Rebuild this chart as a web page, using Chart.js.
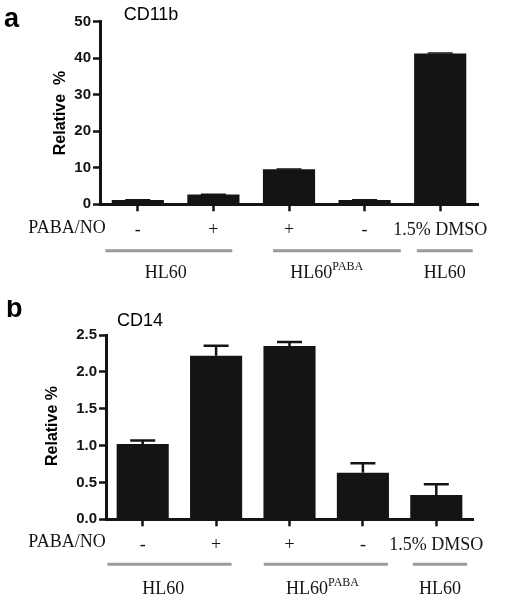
<!DOCTYPE html>
<html>
<head>
<meta charset="utf-8">
<script src="https://cdn.jsdelivr.net/npm/chart.js@4.4.1/dist/chart.umd.min.js"></script>
<style>
  body { margin: 0; background: #fff; }
  .panel { position: absolute; left: 0; width: 515px; }
</style>
</head>
<body>
<div class="panel" style="top:0;height:300px"><canvas id="cd11b" width="515" height="300"></canvas></div>
<div class="panel" style="top:300px;height:301px"><canvas id="cd14" width="515" height="301"></canvas></div>
<script>
// categories (treatment with PABA/NO)
const treatments = ['-', '+', '+', '-', '1.5% DMSO'];
// cell line groups under the axis
const groups = ['HL60', 'HL60|PABA', 'HL60'];

// panel a - CD11b
const cd11bValues = [1.2, 2.7, 9.6, 1.2, 41.3];
const cd11bErrors = [0.05, 0.05, 0.1, 0.05, 0.1];
const cd11bTicks = [0, 10, 20, 30, 40, 50];

// panel b - CD14
const cd14Values = [1.02, 2.22, 2.35, 0.63, 0.33];
const cd14Errors = [0.05, 0.135, 0.055, 0.13, 0.145];
const cd14Ticks = [0, 0.5, 1.0, 1.5, 2.0, 2.5];

const ink = '#141414';

// draws error bars, titles, the PABA/NO row and the group lines
const extras = {
  id: 'extras',
  afterDatasetsDraw(chart, args, o) {
    const ctx = chart.ctx;
    const x = chart.scales.x, y = chart.scales.y;
    const ds = chart.data.datasets[0];
    ctx.save();
    ctx.strokeStyle = ink;
    ctx.lineWidth = o.capWidth;
    ds.data.forEach((v, i) => {
      const px = x.getPixelForValue(i);
      const top = y.getPixelForValue(v);
      const up = y.getPixelForValue(v + o.errors[i]);
      ctx.beginPath();
      ctx.moveTo(px, top);
      ctx.lineTo(px, up);
      ctx.moveTo(px - 12.5, up);
      ctx.lineTo(px + 12.5, up);
      ctx.stroke();
    });
    ctx.restore();
  },
  afterDraw(chart, args, o) {
    const ctx = chart.ctx;
    const x = chart.scales.x;
    const area = chart.chartArea;
    ctx.save();
    ctx.fillStyle = '#000';
    // panel letter
    ctx.font = 'bold 27px "Liberation Sans", Arial, sans-serif';
    ctx.textAlign = 'left';
    ctx.textBaseline = 'alphabetic';
    ctx.fillText(o.letter, o.letterX, o.letterY);
    // chart title
    ctx.font = '18px "Liberation Sans", Arial, sans-serif';
    ctx.textAlign = 'center';
    ctx.textBaseline = 'middle';
    ctx.fillText(o.title, o.titleX, o.titleY);
    // y title
    ctx.save();
    ctx.translate(o.yTitleX, o.yTitleY);
    ctx.rotate(-Math.PI / 2);
    ctx.font = 'bold 16px "Liberation Sans", Arial, sans-serif';
    ctx.fillText(o.yTitle, 0, 0);
    ctx.restore();
    // row label
    ctx.font = '18px "Liberation Serif", "Times New Roman", serif';
    ctx.fillStyle = ink;
    ctx.fillText('PABA/NO', 67, area.bottom + o.rowDy);
    // group lines + labels
    o.spans.forEach((s, i) => {
      const x0 = x.getPixelForValue(s[0]);
      const x1 = x.getPixelForValue(s[1]);
      ctx.strokeStyle = '#9a9a9a';
      ctx.lineWidth = 3;
      ctx.beginPath();
      ctx.moveTo(x0, area.bottom + o.lineDy);
      ctx.lineTo(x1, area.bottom + o.lineDy);
      ctx.stroke();
      const parts = groups[i].split('|');
      const cx = x.getPixelForValue(s[2]);
      const ly = area.bottom + o.groupDy;
      ctx.font = '18px "Liberation Serif", "Times New Roman", serif';
      const w0 = ctx.measureText(parts[0]).width;
      let w1 = 0;
      if (parts[1]) {
        ctx.font = '12px "Liberation Serif", "Times New Roman", serif';
        w1 = ctx.measureText(parts[1]).width;
      }
      const start = cx - (w0 + w1) / 2;
      ctx.textAlign = 'left';
      ctx.font = '18px "Liberation Serif", "Times New Roman", serif';
      ctx.fillText(parts[0], start, ly);
      if (parts[1]) {
        ctx.font = '12px "Liberation Serif", "Times New Roman", serif';
        ctx.fillText(parts[1], start + w0, ly - 6);
      }
      ctx.textAlign = 'center';
    });
    ctx.restore();
  }
};

function makeChart(id, values, errors, ticks, opts) {
  return new Chart(document.getElementById(id), {
    type: 'bar',
    data: {
      labels: treatments,
      datasets: [{
        data: values,
        backgroundColor: ink,
        borderWidth: 0,
        barPercentage: opts.barPct,
        categoryPercentage: 1
      }]
    },
    options: {
      responsive: false,
      animation: false,
      layout: { padding: { top: opts.padTop, right: opts.padRight, left: 0, bottom: 0 } },
      plugins: {
        legend: { display: false },
        tooltip: { enabled: false },
        extras: {
          errors: errors, capWidth: opts.capWidth,
          letter: opts.letter, letterX: opts.letterX, letterY: opts.letterY,
          title: opts.title, titleX: opts.titleX, titleY: opts.titleY,
          yTitle: opts.yTitle, yTitleX: opts.yTitleX, yTitleY: opts.yTitleY,
          rowDy: opts.rowDy, lineDy: opts.lineDy, groupDy: opts.groupDy,
          spans: opts.spans
        }
      },
      scales: {
        x: {
          offset: true,
          grid: { offset: false, drawOnChartArea: false, drawTicks: true, tickLength: 7, tickWidth: 2.5, tickColor: ink },
          border: { color: ink, width: 3 },
          ticks: {
            color: ink,
            padding: opts.xPad,
            autoSkip: false,
            maxRotation: 0,
            font: { family: '"Liberation Serif", "Times New Roman", serif', size: 18 }
          },
          afterFit: (s) => { s.height = opts.xHeight; }
        },
        y: {
          min: ticks[0],
          max: ticks[ticks.length - 1],
          afterBuildTicks: (s) => { s.ticks = ticks.map(v => ({ value: v })); },
          grid: { drawOnChartArea: false, drawTicks: true, tickLength: 7, tickWidth: 2.5, tickColor: ink },
          border: { color: ink, width: 3 },
          ticks: {
            color: ink,
            padding: 2,
            font: { family: '"Liberation Sans", Arial, sans-serif', size: 15, weight: 'bold' },
            callback: (v) => opts.fmt(v)
          },
          afterFit: (s) => { s.width = opts.yWidth; }
        }
      }
    },
    plugins: [extras]
  });
}

makeChart('cd11b', cd11bValues, cd11bErrors, cd11bTicks, {
  barPct: 0.69, padTop: 21.7, padRight: 37, xHeight: 95.7, yWidth: 100, xPad: 8, capWidth: 1.5,
  fmt: (v) => String(v),
  letter: 'a', letterX: 4, letterY: 27,
  title: 'CD11b', titleX: 151, titleY: 15,
  yTitle: 'Relative  %', yTitleX: 61, yTitleY: 113,
  rowDy: 24, lineDy: 46.5, groupDy: 69,
  spans: [[-0.43, 1.25, 0.37], [1.79, 3.48, 2.5], [3.69, 4.43, 4.06]]
});

makeChart('cd14', cd14Values, cd14Errors, cd14Ticks, {
  barPct: 0.71, padTop: 35, padRight: 42, xHeight: 81.7, yWidth: 106, xPad: 8, capWidth: 2.5,
  fmt: (v) => v.toFixed(1),
  letter: 'b', letterX: 6, letterY: 17,
  title: 'CD14', titleX: 140, titleY: 21,
  yTitle: 'Relative %', yTitleX: 53, yTitleY: 126,
  rowDy: 22.5, lineDy: 45, groupDy: 70,
  spans: [[-0.48, 1.21, 0.28], [1.65, 3.34, 2.45], [3.68, 4.42, 4.05]]
});
</script>
</body>
</html>
